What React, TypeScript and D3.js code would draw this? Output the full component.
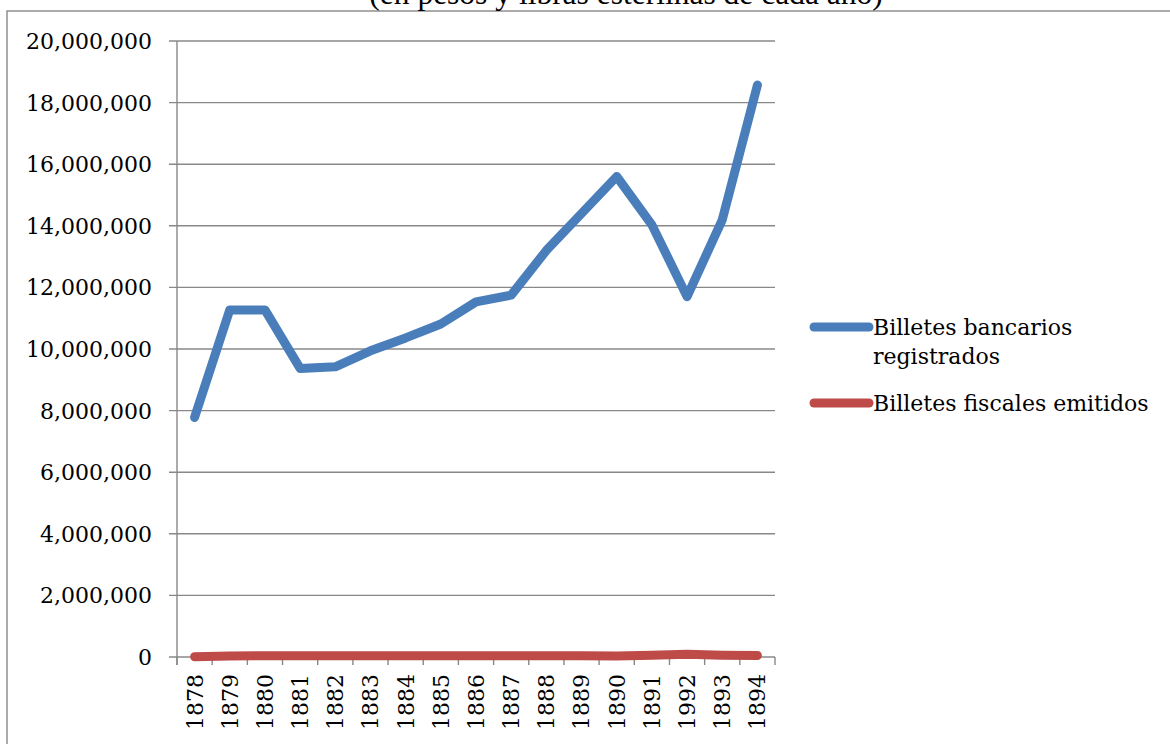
import React, { useEffect, useRef } from "react";
import * as d3 from "d3";

// chart data
const years = [
  "1878", "1879", "1880", "1881", "1882", "1883", "1884", "1885", "1886",
  "1887", "1888", "1889", "1890", "1891", "1992", "1893", "1894",
];
const bancarios = [
  7780000, 11270000, 11270000, 9370000, 9420000, 9940000, 10360000, 10810000,
  11530000, 11750000, 13200000, 14400000, 15600000, 14030000, 11700000,
  14190000, 18570000,
];
const fiscales = [
  10000, 30000, 40000, 40000, 40000, 40000, 40000, 40000, 40000, 40000, 40000,
  40000, 35000, 60000, 90000, 60000, 50000,
];
const yTicks = [0, 2000000, 4000000, 6000000, 8000000, 10000000, 12000000, 14000000, 16000000, 18000000, 20000000];
const seriesNames = ["Billetes bancarios registrados", "Billetes fiscales emitidos"];
const subtitle = "(en pesos y libras esterlinas de cada año)";

const W = 1170;
const H = 744;
const FONT = "'DejaVu Serif', serif";
const GRID = "#888888";

function App() {
  const svgRef: any = useRef(null);

  useEffect(() => {
    draw();
  }, []);

  const draw = () => {
    const svg = d3.select(svgRef.current);
    svg.selectAll("*").remove();

    const left = 177;
    const right = 775;
    const top = 41;
    const bottom = 657;

    // outer frame (runs off the page on the right and bottom)
    svg
      .append("rect")
      .attr("x", 7)
      .attr("y", 11)
      .attr("width", 1300)
      .attr("height", 900)
      .attr("fill", "none")
      .attr("stroke", GRID)
      .attr("stroke-width", 1.4);

    // clipped subtitle line
    svg
      .append("text")
      .attr("x", 626)
      .attr("y", 4)
      .attr("text-anchor", "middle")
      .attr("font-family", "'Liberation Serif', serif")
      .attr("font-size", 31.5)
      .attr("fill", "#000")
      .text(subtitle);

    const x = d3.scalePoint().domain(years).range([left, right]).padding(0.5);
    const xb = d3.scaleBand().domain(years).range([left, right]);
    const y = d3.scaleLinear().domain([0, 20000000]).range([bottom, top]);

    // gridlines
    svg
      .append("g")
      .selectAll("line")
      .data(yTicks.filter((d) => d > 0))
      .join("line")
      .attr("x1", left - 8)
      .attr("x2", right)
      .attr("y1", (d) => y(d))
      .attr("y2", (d) => y(d))
      .attr("stroke", GRID)
      .attr("stroke-width", 1.4);

    // y axis labels
    svg
      .append("g")
      .selectAll("text")
      .data(yTicks)
      .join("text")
      .attr("x", 152)
      .attr("y", (d) => y(d))
      .attr("dy", "0.36em")
      .attr("text-anchor", "end")
      .attr("font-family", FONT)
      .attr("font-size", 22)
      .attr("fill", "#000")
      .text((d) => d3.format(",")(d));

    // y axis line
    svg
      .append("line")
      .attr("x1", left)
      .attr("x2", left)
      .attr("y1", top)
      .attr("y2", bottom + 8)
      .attr("stroke", GRID)
      .attr("stroke-width", 1.4);

    // x axis + ticks
    svg
      .append("line")
      .attr("x1", left - 8)
      .attr("x2", right)
      .attr("y1", bottom)
      .attr("y2", bottom)
      .attr("stroke", GRID)
      .attr("stroke-width", 1.4);

    const edges = years.map((d) => xb(d) as number).concat([right]);
    svg
      .append("g")
      .selectAll("line")
      .data(edges)
      .join("line")
      .attr("x1", (d) => d)
      .attr("x2", (d) => d)
      .attr("y1", bottom)
      .attr("y2", bottom + 8)
      .attr("stroke", GRID)
      .attr("stroke-width", 1.4);

    svg
      .append("g")
      .selectAll("text")
      .data(years)
      .join("text")
      .attr("transform", (d) => `translate(${x(d)}, ${bottom + 17}) rotate(-90)`)
      .attr("dy", "0.36em")
      .attr("text-anchor", "end")
      .attr("font-family", FONT)
      .attr("font-size", 22)
      .attr("fill", "#000")
      .text((d) => d);

    const line = d3
      .line<number>()
      .x((d, i) => x(years[i]) as number)
      .y((d) => y(d));

    svg
      .append("path")
      .datum(bancarios)
      .attr("fill", "none")
      .attr("stroke", "#4a7ebb")
      .attr("stroke-width", 9)
      .attr("stroke-linecap", "round")
      .attr("stroke-linejoin", "round")
      .attr("d", line);

    svg
      .append("path")
      .datum(fiscales)
      .attr("fill", "none")
      .attr("stroke", "#be4b48")
      .attr("stroke-width", 9)
      .attr("stroke-linecap", "round")
      .attr("stroke-linejoin", "round")
      .attr("d", line);

    // legend
    const legend = svg.append("g").attr("font-family", FONT).attr("font-size", 22);
    const colors = ["#4a7ebb", "#be4b48"];
    const legendY = [327, 403];
    const lines = [["Billetes bancarios", "registrados"], [seriesNames[1]]];
    seriesNames.forEach((name, i) => {
      legend
        .append("line")
        .attr("x1", 814)
        .attr("x2", 869)
        .attr("y1", legendY[i])
        .attr("y2", legendY[i])
        .attr("stroke", colors[i])
        .attr("stroke-width", 9)
        .attr("stroke-linecap", "round");
      const t = legend
        .append("text")
        .attr("x", 873)
        .attr("y", legendY[i] + 8)
        .attr("fill", "#000");
      lines[i].forEach((s, j) => {
        t.append("tspan")
          .attr("x", 873)
          .attr("dy", j === 0 ? 0 : 29)
          .text(s);
      });
    });
  };

  return (
    <svg
      ref={svgRef}
      width={W}
      height={H}
      style={{ position: "fixed", left: 0, top: 0, background: "#fff" }}
    />
  );
}

export default App;
